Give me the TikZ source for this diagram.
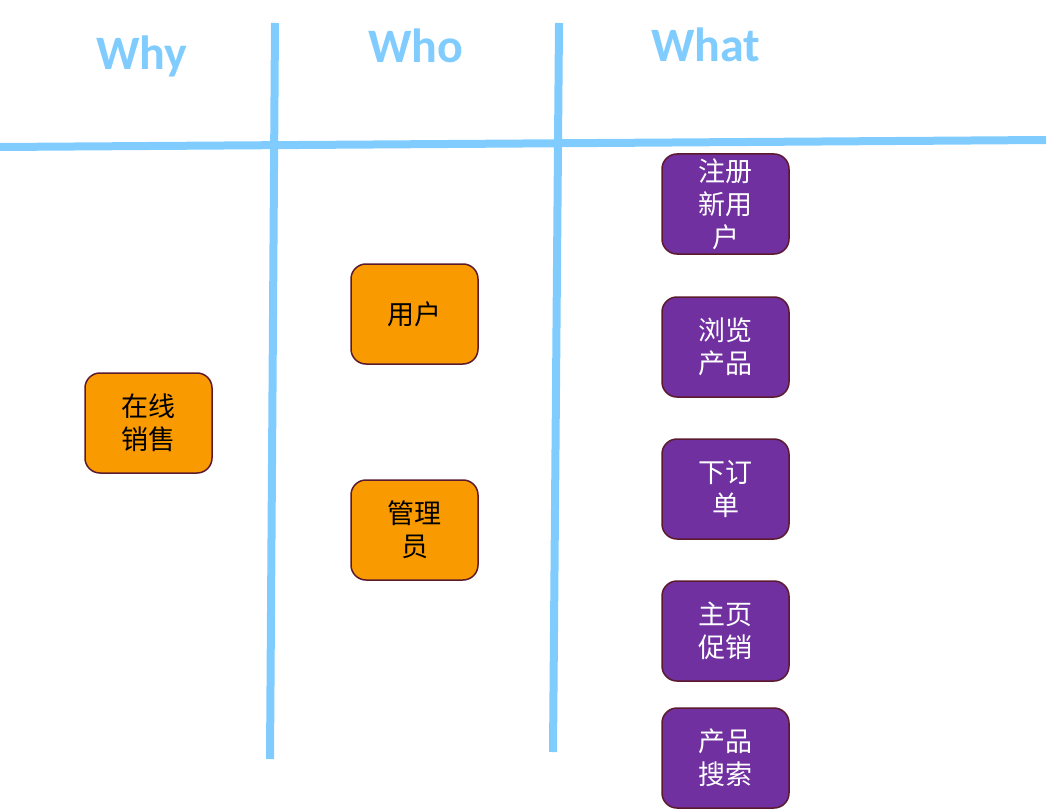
\documentclass[tikz,border=0pt]{standalone}
\usepackage{fontspec}
\newfontfamily\cjk{Noto Sans CJK SC}
\newfontfamily\hdr{Carlito}
\definecolor{linecol}{HTML}{80CCFF}
\definecolor{orangefill}{HTML}{F99B00}
\definecolor{purplefill}{HTML}{7030A0}
\definecolor{boxborder}{HTML}{5B1A2E}
\begin{document}
\begin{tikzpicture}[x=1pt,y=-1pt,
  axis/.style={draw=linecol,line width=8pt},
  header/.style={text=linecol,font=\hdr\bfseries\fontsize{48}{52}\selectfont,anchor=base},
  cardbase/.style={draw=boxborder,line width=1.5pt,rounded corners=15pt,minimum width=127pt,minimum height=100pt,align=center,inner sep=0pt,font=\cjk\fontsize{27}{33}\selectfont},
  orangecard/.style={cardbase,fill=orangefill,text=black},
  purplecard/.style={cardbase,fill=purplefill,text=white}]
\useasboundingbox (0,0) rectangle (1051,810);
% grid lines
\coordinate (hL) at (0,147);
\coordinate (hR) at (1046,140);
\coordinate (v1t) at (275,23);
\coordinate (v1b) at (270,759);
\coordinate (v2t) at (559,23);
\coordinate (v2b) at (553,752);
\draw[axis] (hL) -- (hR);
\draw[axis] (v1t) -- (v1b);
\draw[axis] (v2t) -- (v2b);
% headers
\node[header] (why) at (142,70) {Why};
\node[header] (who) at (416,63) {Who};
\node[header] (what) at (706,62) {What};
% cards
\node[orangecard] (sales) at (148.5,423) {在线\\销售};
\node[orangecard] (user) at (414.5,314) {用户};
\node[orangecard] (admin) at (414.5,530) {管理\\员};
\node[purplecard] (reg) at (725.5,204) {注册\\新用\\户};
\node[purplecard] (browse) at (725.5,347) {浏览\\产品};
\node[purplecard] (order) at (725.5,489) {下订\\单};
\node[purplecard] (promo) at (725.5,631) {主页\\促销};
\node[purplecard] (search) at (725.5,758) {产品\\搜索};
\end{tikzpicture}
\end{document}
